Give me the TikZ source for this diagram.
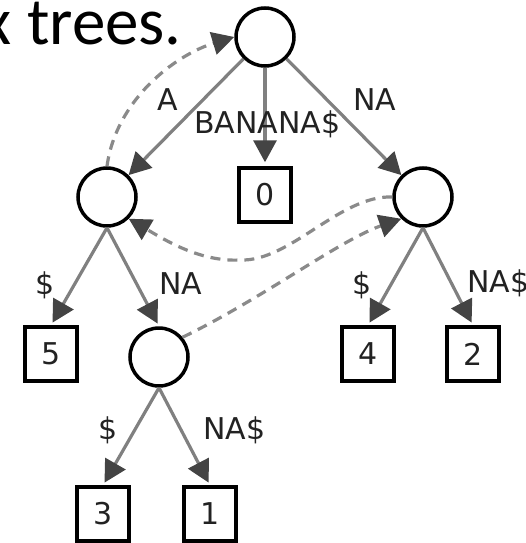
\documentclass[tikz,border=0pt]{standalone}
\usepackage{fontspec}
\usetikzlibrary{arrows.meta}
\newfontfamily\labfont{DejaVu Sans}
\newfontfamily\titfont{Carlito}
\definecolor{edgegray}{HTML}{808080}
\definecolor{tipgray}{HTML}{444444}
\definecolor{linkgray}{HTML}{8A8A8A}
\definecolor{txtgray}{HTML}{222222}
\tikzset{
  inode/.style={circle, draw=black, line width=3.5pt, minimum size=58pt, inner sep=0pt},
  leaf/.style={rectangle, draw=black, line width=3.5pt, minimum width=52pt, minimum height=54pt, inner sep=0pt, text=txtgray, font=\labfont\fontsize{30}{36}\selectfont},
  edge/.style={draw=edgegray, line width=3.2pt, -{Triangle[length=22pt,width=23pt,color=tipgray]}},
  slink/.style={draw=linkgray, line width=3.2pt, dash pattern=on 10pt off 7pt, -{Triangle[length=22pt,width=23pt,color=tipgray]}},
  elabel/.style={anchor=base west, inner sep=0pt, text=txtgray, font=\labfont\fontsize{30}{36}\selectfont},
}
\begin{document}
\begin{tikzpicture}[x=1pt,y=-1pt]
\useasboundingbox (0,0) rectangle (526,543);
\node[anchor=base east, inner sep=0pt, font=\titfont\fontsize{67}{75}\selectfont] (title) at (182,45) {x trees.};

\node[inode] (root) at (265,37) {};
\node[inode] (L1) at (107,197) {};
\node[inode] (R1) at (423,197) {};
\node[inode] (L2) at (159,357) {};
\node[leaf] (B0) at (265,195) {0};
\node[leaf] (B5) at (51,354) {5};
\node[leaf] (B4) at (368,354) {4};
\node[leaf] (B2) at (473,354) {2};
\node[leaf] (B3) at (103,514) {3};
\node[leaf] (B1) at (210,514) {1};

\draw[edge] (root) -- (L1);
\draw[edge, shorten >=4pt] (root) -- (B0);
\draw[edge] (root) -- (R1);
\draw[edge, shorten >=3pt] (L1.south) -- (B5.north);
\draw[edge, shorten >=3pt] (L1.south) -- (L2.north);
\draw[edge, shorten >=3pt] (R1.south) -- (B4.north);
\draw[edge, shorten >=3pt] (R1.south) -- (B2.north);
\draw[edge, shorten >=3pt] (L2.south) -- (B3.north);
\draw[edge, shorten >=3pt] (L2.south) -- (B1.north);

\draw[slink] (L1.north) .. controls (116,100) and (175,55) .. (root.west);
\draw[slink] (R1.west) .. controls (340,195) and (290,262) .. (240,260) .. controls (200,262) and (165,240) .. (L1.-45);
\draw[slink] (L2.40) .. controls (260,300) and (340,240) .. (R1.225);

\node[elabel] (lA) at (157,110) {A};
\node[elabel] (lB) at (194,133) {BANANA\$};
\node[elabel] (lNA1) at (353,110) {NA};
\node[elabel] (ld1) at (35,294) {\$};
\node[elabel] (lNA2) at (159,294) {NA};
\node[elabel] (ld2) at (352,294) {\$};
\node[elabel] (lNA3) at (467,292) {NA\$};
\node[elabel] (ld3) at (98,439) {\$};
\node[elabel] (lNA4) at (203,439) {NA\$};
\end{tikzpicture}
\end{document}
